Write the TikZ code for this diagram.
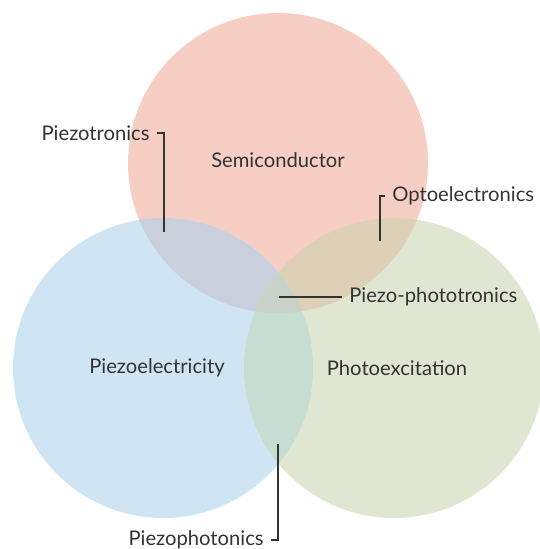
\documentclass[tikz,border=0pt]{standalone}
\usepackage{fontspec}
\setmainfont{Lato}
\usepackage{tikz}

\definecolor{semicol}{HTML}{F7CEC3}
\definecolor{piezocol}{HTML}{CFE5F4}
\definecolor{photocol}{HTML}{DFE6D2}
\definecolor{semipiezo}{HTML}{C9D0DC}
\definecolor{semiphoto}{HTML}{DDD0B6}
\definecolor{piezophoto}{HTML}{C6DDD2}
\definecolor{allthree}{HTML}{C8D2C6}
\definecolor{inkcol}{HTML}{333333}

\tikzset{
  field/.style={text=inkcol, font=\fontsize{11.5}{14}\selectfont},
  effect/.style={text=inkcol, font=\fontsize{11.5}{14}\selectfont, inner sep=4pt},
  leader/.style={inkcol, line width=0.75pt}
}

\begin{document}
\begin{tikzpicture}[x=0.02cm,y=-0.02cm]
\useasboundingbox (0,0) rectangle (539,549);

%The three circles
\coordinate (semi) at (278,163);
\coordinate (piezo) at (163,368);
\coordinate (photo) at (394,368);
\fill[semicol] (semi) circle[radius=150];
\fill[piezocol] (piezo) circle[radius=150];
\fill[photocol] (photo) circle[radius=150];

%Overlaps
\begin{scope}
\clip (semi) circle[radius=150];
\fill[semipiezo] (piezo) circle[radius=150];
\fill[semiphoto] (photo) circle[radius=150];
\end{scope}
\begin{scope}
\clip (piezo) circle[radius=150];
\fill[piezophoto] (photo) circle[radius=150];
\clip (photo) circle[radius=150];
\fill[allthree] (semi) circle[radius=150];
\end{scope}

%Fields
\node[field] (semiconductor) at (278,160) {Semiconductor};
\node[field] (piezoelectricity) at (157,368) {Piezoelectricity};
\node[field] (photoexcitation) at (397,368) {Photoexcitation};

%Effects at the overlaps
\node[effect, anchor=east] (piezotronics) at (157,133) {Piezotronics};
\coordinate (piezotronics end) at (164,232);
\draw[leader] (piezotronics.east) -| (piezotronics end);

\node[effect, anchor=west] (optoelectronics) at (385,196) {Optoelectronics};
\coordinate (optoelectronics end) at (380,241);
\draw[leader] (optoelectronics.west) -| (optoelectronics end);

\node[effect, anchor=west] (piezophototronics) at (342,297) {Piezo-phototronics};
\coordinate (piezophototronics end) at (279,297);
\draw[leader] (piezophototronics.west) -- (piezophototronics end);

\node[effect, anchor=east] (piezophotonics) at (271,540) {Piezophotonics};
\coordinate (piezophotonics end) at (278,444);
\draw[leader] (piezophotonics.east) -| (piezophotonics end);

\end{tikzpicture}
\end{document}
